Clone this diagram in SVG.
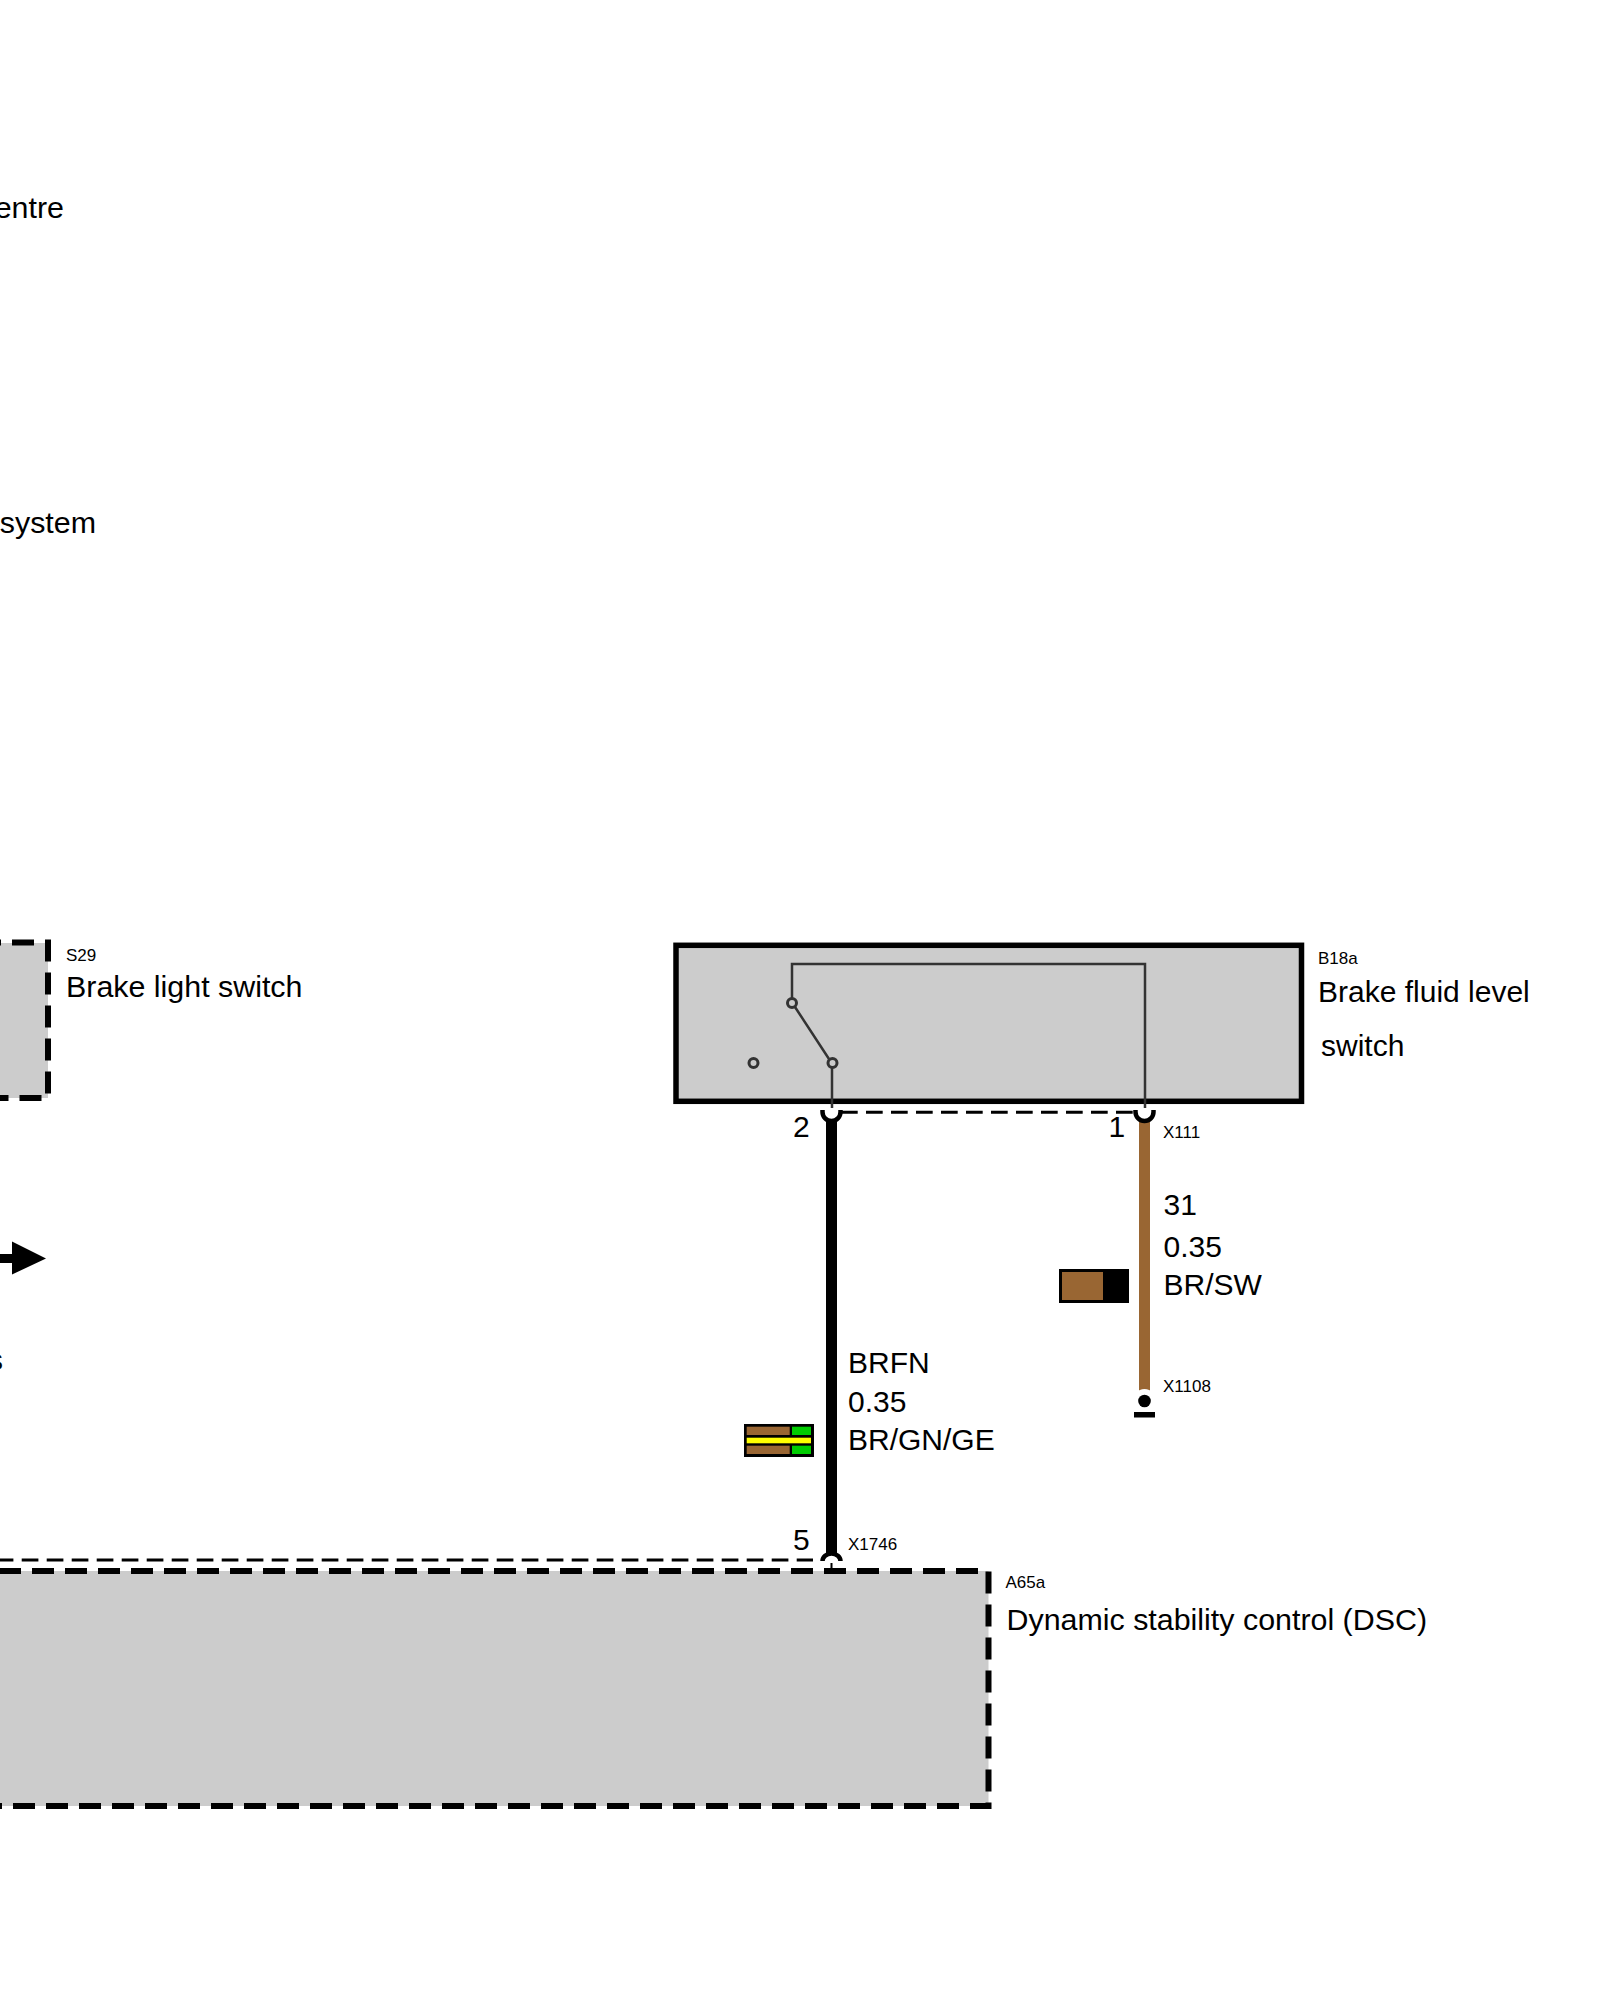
<svg xmlns="http://www.w3.org/2000/svg" width="1600" height="2000" viewBox="0 0 1600 2000">
<style>
text{font-family:"Liberation Sans",Arial,sans-serif;fill:#000;font-size:30px}
.s{font-size:17px}
.w{font-size:30.4px}
.e{text-anchor:end}
.grey{fill:#ccc}
.bd{fill:none;stroke:#000;stroke-width:6;stroke-dasharray:22 11}
.in{fill:none;stroke:#333;stroke-width:2.5}
.pt{fill:#ccc;stroke:#333;stroke-width:3}
.cup{fill:none;stroke:#000;stroke-width:4.500}
.shield{fill:none;stroke:#000;stroke-width:3;stroke-dasharray:16.7 8.3}
.br{fill:#963}
.gn{fill:#0c0}
</style>
<rect width="1600" height="2000" fill="#fff"/>
<g id="label-centre"><text class="e w" x="64" y="218">entre</text></g>
<g id="label-system"><text class="e w" x="96" y="533">system</text></g>
<g id="S29">
<rect class="grey" x="0" y="943" width="48" height="155"/>
<path class="bd" d="M-21 942.5H48V1098H-5"/>
<text class="s" x="66" y="961">S29</text>
<text class="w" x="66" y="997">Brake light switch</text>
</g>
<g id="arrow">
<path d="M0 1254H12V1241.5L46 1258.5L12 1274.5V1263H0Z" fill="#000"/>
<text class="e" x="3" y="1370">s</text>
</g>
<g id="B18a">
<rect x="676" y="945.300" width="625.5" height="156" fill="#ccc" stroke="#000" stroke-width="5.500"/>
<path class="in" d="M792 998.500V964H1145V1108M795 1007L829 1059M832 1067.500V1108"/>
<circle class="pt" cx="792" cy="1003" r="4.500"/>
<circle class="pt" cx="832.500" cy="1063" r="4.500"/>
<circle class="pt" cx="753.500" cy="1063" r="4.500"/>
<text class="s" x="1318" y="963.500">B18a</text>
<text x="1318" y="1002">Brake fluid level</text>
<text x="1321" y="1056">switch</text>
</g>
<g id="A65a">
<rect class="grey" x="0" y="1571" width="988.500" height="235"/>
<path class="bd" d="M-1 1571H988.500V1806H-1"/>
<text class="s" x="1005.500" y="1588">A65a</text>
<text class="w" x="1006.500" y="1629.500">Dynamic stability control (DSC)</text>
</g>
<g id="connectors">
<path d="M831.500 1120V1553" stroke="#000" stroke-width="11" fill="none"/>
<path d="M1144.500 1120V1395" stroke="#963" stroke-width="11" fill="none"/>
<path class="shield" d="M841 1112.300H1133"/>
<path class="shield" d="M-3.300 1560H813"/>
<path class="cup" d="M822.500 1110V1112A9 9 0 0 0 840.500 1112V1110"/>
<path class="cup" d="M1135.500 1110V1112A9 9 0 0 0 1153.500 1112V1110"/>
<path class="cup" d="M822.500 1561A9 7.500 0 0 1 840.500 1561"/>
<path d="M831.500 1563V1571" stroke="#000" stroke-width="2" fill="none"/>
</g>
<g id="X111"><text x="793" y="1137">2</text><text x="1108.500" y="1137">1</text><text class="s" x="1163" y="1138">X111</text></g>
<g id="wire-31">
<text x="1163.500" y="1215">31</text>
<text x="1163.500" y="1257">0.35</text>
<text x="1163.500" y="1295">BR/SW</text>
<rect x="1059" y="1269" width="70" height="34" fill="#000"/>
<rect class="br" x="1062" y="1272" width="41" height="28"/>
</g>
<g id="X1108">
<circle cx="1144.500" cy="1401" r="12" fill="#fff"/>
<circle cx="1144.500" cy="1401" r="6.300" fill="#000"/>
<rect x="1134" y="1412" width="21" height="5.500" fill="#000"/>
<text class="s" x="1163" y="1392">X1108</text>
</g>
<g id="wire-BRFN">
<text x="848" y="1373">BRFN</text>
<text x="848" y="1412">0.35</text>
<text x="848" y="1449.500">BR/GN/GE</text>
<rect x="744" y="1424" width="70" height="33" fill="#000"/>
<rect class="br" x="746.700" y="1426.700" width="43" height="8.300"/>
<rect class="gn" x="792" y="1426.700" width="19" height="8.300"/>
<rect x="746.700" y="1437.700" width="64.300" height="5.600" fill="#ff0"/>
<rect class="br" x="746.700" y="1445.700" width="43" height="8.300"/>
<rect class="gn" x="792" y="1445.700" width="19" height="8.300"/>
</g>
<g id="X1746"><text x="793" y="1550">5</text><text class="s" x="848" y="1550">X1746</text></g>
</svg>
